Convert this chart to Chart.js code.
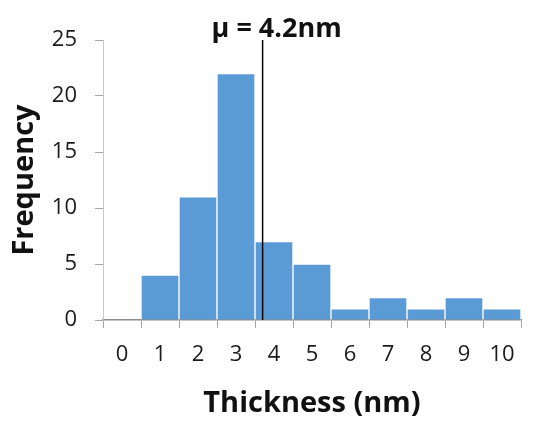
<!DOCTYPE html>
<html>
<head>
<meta charset="utf-8">
<script src="https://cdn.jsdelivr.net/npm/chart.js@4/dist/chart.umd.min.js"></script>
<style>
  html, body { margin: 0; padding: 0; background: #fff; }
  #wrap { width: 533px; height: 421px; }
</style>
</head>
<body>
<div id="wrap"><canvas id="histChart" width="533" height="421"></canvas></div>
<script>
  const thicknessBins = ["0", "1", "2", "3", "4", "5", "6", "7", "8", "9", "10"];
  const frequencies = [0, 4, 11, 22, 7, 5, 1, 2, 1, 2, 1];
  const yTicks = [0, 5, 10, 15, 20, 25];
  const meanLabel = "\u03BC = 4.2nm";
  const meanIndex = 3.7; // mean line sits 0.7 of the way into the "4" bin

  const FONT = "'Open Sans', Lato, sans-serif";

  // vertical mean line + its label
  const meanLine = {
    id: "meanLine",
    afterDatasetsDraw(chart) {
      const { ctx, chartArea, scales } = chart;
      const x = scales.x.getPixelForValue(meanIndex);
      ctx.save();
      ctx.strokeStyle = "#000";
      ctx.lineWidth = 1.5;
      ctx.beginPath();
      ctx.moveTo(x, chartArea.top);
      ctx.lineTo(x, scales.y.getPixelForValue(0));
      ctx.stroke();
      ctx.fillStyle = "#111";
      ctx.font = `bold 27px ${FONT}`;
      ctx.textAlign = "center";
      ctx.textBaseline = "alphabetic";
      ctx.fillText(meanLabel, x + 14, chartArea.top - 3);
      ctx.restore();
    },
  };

  new Chart(document.getElementById("histChart").getContext("2d"), {
    type: "bar",
    data: {
      labels: thicknessBins,
      datasets: [
        {
          data: frequencies,
          backgroundColor: (c) => (c.raw === 0 ? "rgba(0,0,0,0)" : "#5b9bd5"),
          borderColor: "#ffffff",
          borderWidth: (c) => (c.raw === 0 ? 0 : 1),
          barPercentage: 1,
          categoryPercentage: 1,
        },
      ],
    },
    options: {
      responsive: false,
      animation: false,
      layout: { padding: { top: 40, right: 12, left: 0, bottom: 0 } },
      plugins: {
        legend: { display: false },
        tooltip: { enabled: false },
      },
      scales: {
        x: {
          z: 1, // keep the axis line on top of the bars
          afterFit: (s) => { s.height = 101; },
          grid: {
            display: true,
            drawOnChartArea: false,
            tickLength: 8,
            color: "#a6a6a6",
          },
          border: { color: "#8c8c8c", width: 1.5 },
          ticks: {
            color: "#1a1a1a",
            font: { family: FONT, size: 22 },
            padding: 14,
          },
          title: {
            display: true,
            text: "Thickness (nm)",
            color: "#111",
            font: { family: FONT, size: 29, weight: "bold" },
            padding: { top: 5, bottom: 0 },
          },
        },
        y: {
          min: 0,
          max: 25,
          afterFit: (s) => { s.width = 103; },
          afterBuildTicks: (s) => { s.ticks = yTicks.map((v) => ({ value: v })); },
          grid: {
            display: true,
            drawOnChartArea: false,
            tickLength: 8,
            color: "#a6a6a6",
          },
          border: { color: "#c8c8c8", width: 1 },
          ticks: {
            color: "#1a1a1a",
            font: { family: FONT, size: 22 },
            padding: 18,
          },
          title: {
            display: true,
            text: "Frequency",
            color: "#111",
            font: { family: FONT, size: 29, weight: "bold" },
            padding: { top: 7, bottom: 0 },
          },
        },
      },
    },
    plugins: [meanLine],
  });
</script>
</body>
</html>
